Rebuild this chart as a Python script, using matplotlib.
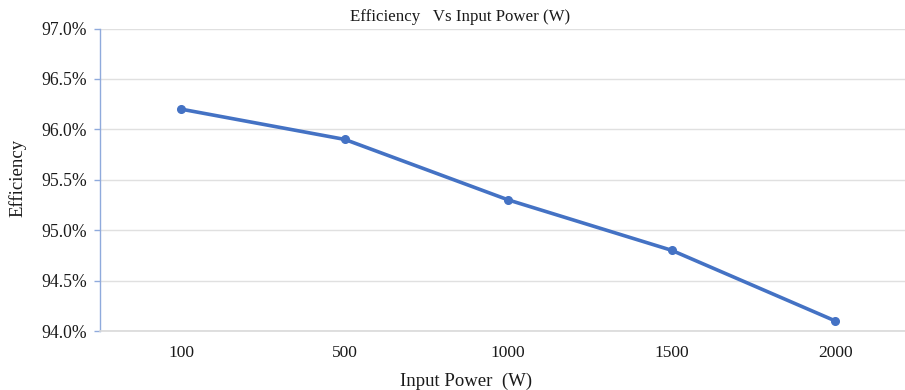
import matplotlib
matplotlib.use("Agg")
import matplotlib.pyplot as plt
from matplotlib.ticker import FuncFormatter, MultipleLocator

plt.rcParams['font.family'] = ['Liberation Serif', 'DejaVu Serif']

power_labels = ["100", "500", "1000", "1500", "2000"]
efficiency = [96.2, 95.9, 95.3, 94.8, 94.1]

fig = plt.figure(figsize=(9.05, 3.9), dpi=100)
# axes extends past the right edge, like a clipped category axis
left_px, right_px, top_px, bottom_px = 99.5, 917.0, 28.5, 331.0
W, H = 905.0, 390.0
ax = fig.add_axes([left_px / W, 1 - bottom_px / H,
                   (right_px - left_px) / W, (bottom_px - top_px) / H])

x = list(range(len(power_labels)))
ax.plot(x, efficiency, color='#4472C4', linewidth=2.6, marker='o',
        markersize=5.5, zorder=3, clip_on=False)

ax.set_xlim(-0.5, len(power_labels) - 0.5)
ax.set_ylim(94.0, 97.0)
ax.yaxis.set_major_locator(MultipleLocator(0.5))
ax.yaxis.set_major_formatter(FuncFormatter(lambda v, p: f"{v:.1f}%"))
ax.set_xticks(x)
ax.set_xticklabels(power_labels)

ax.grid(axis='y', color='#E0E0E0', linewidth=1.0)
ax.set_axisbelow(True)
for s in ['top', 'right']:
    ax.spines[s].set_visible(False)
ax.spines['left'].set_color('#8FAADC')
ax.spines['left'].set_linewidth(1.0)
ax.spines['bottom'].set_color('#D9D9D9')
ax.spines['bottom'].set_linewidth(1.2)

ax.tick_params(axis='y', length=4, width=1.0, color='#8FAADC',
               labelsize=12.7, pad=5, labelcolor='#1a1a1a')
ax.tick_params(axis='x', length=0, labelsize=12.5, pad=10,
               labelcolor='#1a1a1a')

fig.text(460 / W, 1 - 17 / H, "Efficiency   Vs Input Power (W)",
         ha='center', va='center', fontsize=12.2, color='#1a1a1a')
fig.text(466 / W, 1 - 381 / H, "Input Power  (W)",
         ha='center', va='center', fontsize=13.5, color='#1a1a1a')
fig.text(18 / W, 1 - 178 / H, "Efficiency", rotation=90,
         ha='center', va='center', fontsize=13.5, color='#1a1a1a')

fig.savefig("out.png", dpi=100)
